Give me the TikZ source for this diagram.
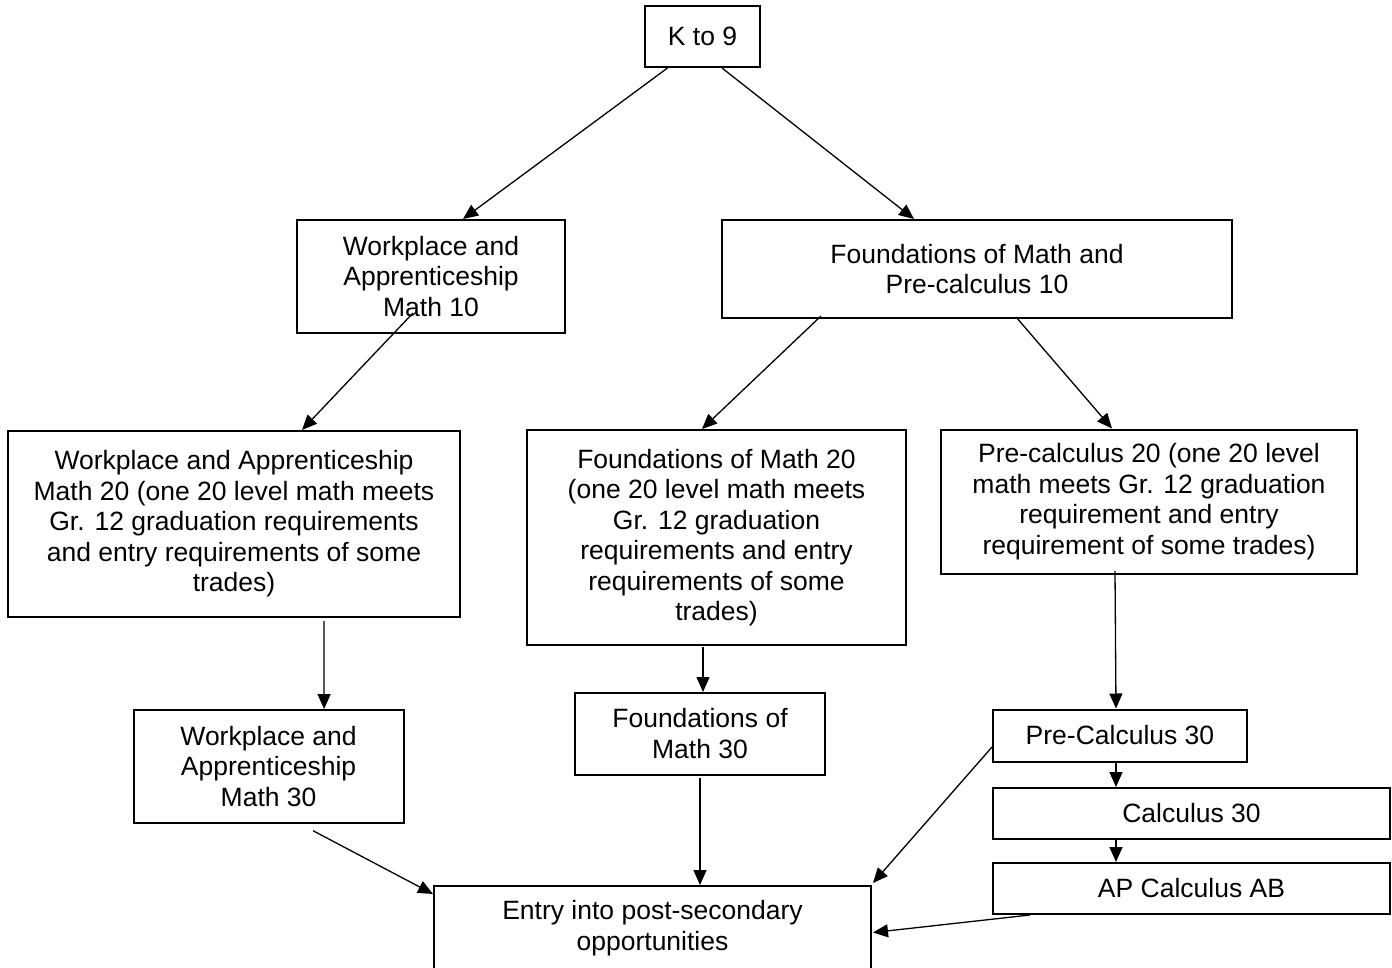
\documentclass[tikz,border=0pt]{standalone}
\usepackage{fontspec}
\setmainfont{Liberation Sans}
\usetikzlibrary{arrows.meta,calc}

\begin{document}
\begin{tikzpicture}[x=0.5pt, y=-0.5pt]
    \tikzset{pathbox/.style={draw, line width=1pt, inner sep=0pt,
            align=center, font=\fontsize{13.25}{15.25}\selectfont},
        link/.style={line width=0.65pt,
            -{Triangle[length=7.5pt, width=6.5pt]}}
    }
    \useasboundingbox (0,0) rectangle (1392,968);
    % grade 9 and 10
    \node [pathbox, minimum width=57.5pt, minimum height=30.5pt]
        (k9) at (702.5,36.5) {K to 9};
    \node [pathbox, minimum width=134pt, minimum height=56.5pt]
        (wa10) at (431,276.5) {Workplace and\\Apprenticeship\\Math 10};
    \node [pathbox, minimum width=255pt, minimum height=49pt]
        (fmp10) at (977,269) {Foundations of Math and\\Pre-calculus 10};
    % grade 11
    \node [pathbox, minimum width=226pt, minimum height=93pt]
        (wa20) at (234,524) {Workplace and Apprenticeship\\
        Math 20 (one 20 level math meets\\Gr. 12 graduation requirements\\
        and entry requirements of some\\trades)};
    \node [pathbox, minimum width=189.5pt, minimum height=107.5pt]
        (fm20) at (716.5,537.5) {Foundations of Math 20\\
        (one 20 level math meets\\Gr. 12 graduation\\
        requirements and entry\\requirements of some\\trades)};
    \node [pathbox, minimum width=208pt, minimum height=72.25pt]
        (pc20) at (1149,501.75) {Pre-calculus 20 (one 20 level\\
        math meets Gr. 12 graduation\\requirement and entry\\
        requirement of some trades)};
    % grade 12
    \node [pathbox, minimum width=135pt, minimum height=56.35pt]
        (wa30) at (268.6,766.4) {Workplace and\\Apprenticeship\\Math 30};
    \node [pathbox, minimum width=125pt, minimum height=40.75pt]
        (fm30) at (700,733.75) {Foundations of\\Math 30};
    \node [pathbox, minimum width=127pt, minimum height=26pt]
        (pc30) at (1120,735.5) {Pre-Calculus 30};
    \node [pathbox, minimum width=198.5pt, minimum height=25.5pt]
        (c30) at (1191.5,813.5) {Calculus 30};
    \node [pathbox, minimum width=198.5pt, minimum height=25.5pt]
        (apc) at (1191.5,888.5) {AP Calculus AB};
    % after school
    \node [pathbox, minimum width=218.5pt, minimum height=42pt]
        (entry) at (652.5,928) {Entry into post-secondary\\opportunities};
    % links
    \draw [link] ($(k9.south)+(-35,0)$) -- ($(wa10.north)+(32,0)$);
    \draw [link] ($(k9.south)+(19.5,0)$) -- ($(fmp10.north)+(-63,0)$);
    \draw [link] ($(wa10)+(-18,36.5)$) -- ($(wa20.north)+(68,0)$);
    \draw [link] ($(fmp10.south)+(-156,-3)$) -- ($(fm20.north)+(-14.5,0)$);
    \draw [link] ($(fmp10.south)+(39,-2)$) -- ($(pc20.north)+(-37,0)$);
    \draw [link] ($(wa20.south)+(90,3)$) -- ($(wa30.north)+(55.5,0)$);
    \draw [link] ($(fm20.south)+(-13.5,1)$) -- ($(fm30.north)+(3,0)$);
    \draw [link] ($(pc20.south)+(-34,-4)$) -- ($(pc30.north)+(-4,0)$);
    \draw [link] ($(pc30.south)+(-4,0)$) -- ($(c30.north)+(-75.5,0)$);
    \draw [link] ($(c30.south)+(-75.5,0)$) -- ($(apc.north)+(-75.5,0)$);
    % into entry
    \draw [link] ($(wa30.south)+(44.5,7)$) -- ($(entry.north west)+(0,9)$);
    \draw [link] ($(fm30.south)+(0,2.5)$) -- ($(entry.north)+(47.5,0)$);
    \draw [link] ($(pc30.west)+(0,11.5)$) -- ($(entry.north east)+(1,-2)$);
    \draw [link] ($(apc.south)+(-161.5,0)$) -- ($(entry.east)+(1,4.5)$);
\end{tikzpicture}
\end{document}
